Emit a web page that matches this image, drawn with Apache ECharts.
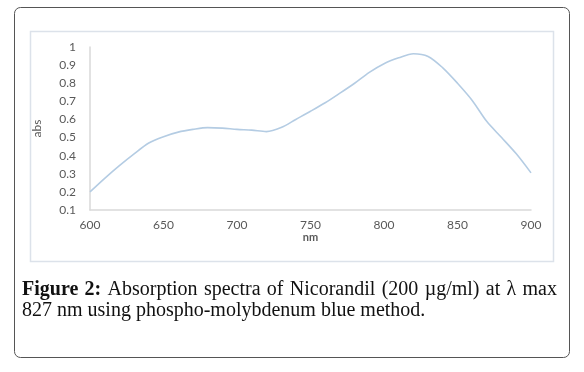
<!DOCTYPE html>
<html>
<head>
<meta charset="utf-8">
<script src="https://cdn.jsdelivr.net/npm/echarts@6/dist/echarts.min.js"></script>
<style>
  html, body { margin: 0; padding: 0; background: #fff; }
  #chart { width: 584px; height: 372px; }
</style>
</head>
<body>
<div id="chart"></div>
<script>
// wavelength (nm) and absorbance
const wavelengths = [600, 610, 620, 630, 640, 650, 660, 670, 680, 690, 700, 710, 720, 730, 740, 750,
  760, 770, 780, 790, 800, 810, 820, 830, 840, 850, 860, 870, 880, 890, 900];
const absorbance = [0.20, 0.275, 0.345, 0.41, 0.47, 0.505, 0.53, 0.545, 0.555, 0.552, 0.545, 0.541, 0.533, 0.555, 0.60, 0.645,
  0.692, 0.745, 0.80, 0.86, 0.908, 0.94, 0.963, 0.948, 0.885, 0.80, 0.705, 0.588, 0.50, 0.41, 0.305];

const captionLine1 = ['Figure', '2:', 'Absorption', 'spectra', 'of', 'Nicorandil', '(200', 'µg/ml)', 'at', 'λ', 'max'];
const boldWords = 2;
const captionLine2 = '827 nm using phospho-molybdenum blue method.';

const serif = '"Liberation Serif", "DejaVu Serif", serif';
const capSize = 20;

// justify first caption line between left and right edge
const ctx = document.createElement('canvas').getContext('2d');
const left = 22, right = 557;
const widths = captionLine1.map((w, i) => {
  ctx.font = (i < boldWords ? 'bold ' : '') + capSize + 'px ' + serif;
  return ctx.measureText(w).width;
});
const gap = (right - left - widths.reduce((a, b) => a + b, 0)) / (captionLine1.length - 1);
let cx = left;
const captionEls = captionLine1.map((w, i) => {
  const el = {
    type: 'text', left: cx, top: 280,
    style: { text: w, font: (i < boldWords ? 'bold ' : '') + capSize + 'px ' + serif, fill: '#111' }
  };
  cx += widths[i] + gap;
  return el;
});
captionEls.push({
  type: 'text', left: left, top: 301,
  style: { text: captionLine2, font: capSize + 'px ' + serif, fill: '#111' }
});

const chart = echarts.init(document.getElementById('chart'));
chart.setOption({
  animation: false,
  grid: { left: 90, right: 53, top: 47, bottom: 162 },
  xAxis: {
    type: 'value', min: 600, max: 900, interval: 50,
    name: 'nm', nameLocation: 'middle', nameGap: 22,
    nameTextStyle: { color: '#595959', fontSize: 11, fontWeight: 'bold', fontFamily: 'Lato' },
    axisLine: { lineStyle: { color: '#d9d9d9', width: 1.5 } },
    axisTick: { show: false },
    splitLine: { show: false },
    axisLabel: { color: '#595959', fontSize: 12, fontFamily: 'Lato', margin: 9 }
  },
  yAxis: {
    type: 'value', min: 0.1, max: 1, interval: 0.1,
    name: 'abs', nameLocation: 'middle', nameGap: 47,
    nameTextStyle: { color: '#595959', fontSize: 12, fontFamily: 'Lato' },
    axisLine: { show: true, lineStyle: { color: '#d9d9d9', width: 1.5 } },
    axisTick: { show: false },
    splitLine: { show: false },
    axisLabel: { color: '#595959', fontSize: 12, fontFamily: 'Lato', margin: 14 }
  },
  series: [{
    type: 'line',
    data: wavelengths.map((w, i) => [w, absorbance[i]]),
    smooth: 0.3,
    showSymbol: false,
    lineStyle: { color: '#b4cce3', width: 1.6 }
  }],
  graphic: [
    { type: 'rect', z: -10, shape: { x: 14.5, y: 7.5, width: 555, height: 350, r: 6 },
      style: { fill: '#fff', stroke: '#555', lineWidth: 1 } },
    { type: 'rect', z: -9, shape: { x: 30.5, y: 31.5, width: 523, height: 230 },
      style: { fill: '#fff', stroke: '#dce2ea', lineWidth: 1.5 } }
  ].concat(captionEls)
});
</script>
</body>
</html>
